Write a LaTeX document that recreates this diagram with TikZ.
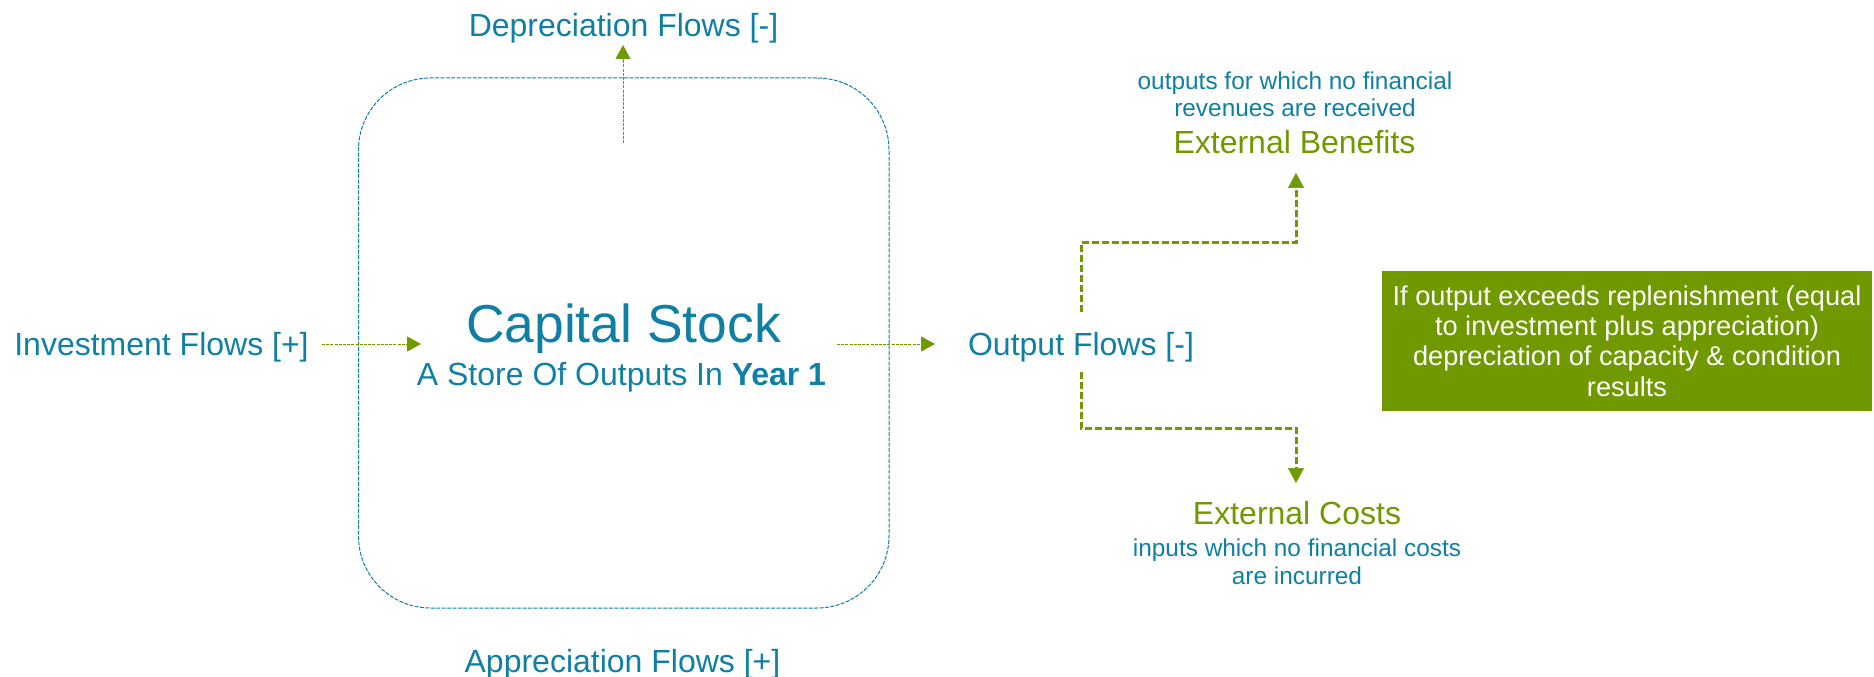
\documentclass[tikz,border=0pt]{standalone}
\usepackage{fontspec}
\setmainfont{Liberation Sans}
\usetikzlibrary{arrows.meta}
\definecolor{stockblue}{HTML}{0F7FA5}
\definecolor{flowgreen}{HTML}{709900}

\begin{document}
\begin{tikzpicture}[x=0.5pt,y=0.5pt,
    flow/.style={text=stockblue,font=\fontsize{16}{18}\selectfont,inner sep=0pt},
    ext/.style={text=flowgreen,font=\fontsize{16}{18}\selectfont,inner sep=0pt},
    remark/.style={text=stockblue,font=\fontsize{12.2}{14}\selectfont,align=center,inner sep=0pt},
    thinflow/.style={draw=flowgreen,line width=0.5pt,dash pattern=on 1.5pt off 0.6pt,
      -{Triangle[width=7.5pt,length=7pt]}},
    branch/.style={draw=flowgreen,line width=1.5pt,dash pattern=on 3.5pt off 1.5pt,
      -{Triangle[width=8pt,length=7.5pt,line width=0.3pt]}}]
    \useasboundingbox (0,0) rectangle (1874,676);

    \node[draw=stockblue,line width=0.5pt,dash pattern=on 2pt off 0.7pt,rounded corners=36pt,
      minimum width=265.25pt,minimum height=265pt] (capital) at (623.75,333) {};
    \node[flow,font=\fontsize{26.7}{30}\selectfont,anchor=base] (title) at (623.5,334) {Capital Stock};
    \node[flow,anchor=base] (store) at (621.5,291) {A Store Of Outputs In \textbf{Year 1}};

    \node[flow,anchor=base] (deprec) at (623.5,639) {Depreciation Flows [-]};
    \node[flow,anchor=base] (apprec) at (622.5,3.4) {Appreciation Flows [+]};
    \node[flow,anchor=base] (invest) at (161.5,321) {Investment Flows [+]};
    \node[flow,anchor=base] (output) at (1081,321) {Output Flows [-]};

    \node[remark,anchor=base] (bennote) at (1295,559) {outputs for which no financial\\revenues are received};
    \node[ext,anchor=base] (benefits) at (1294.5,522) {External Benefits};
    \node[ext,anchor=base] (costs) at (1297,152) {External Costs};
    \node[remark,anchor=base] (costnote) at (1297,92) {inputs which no financial costs\\are incurred};

    \node[fill=flowgreen,text=white,font=\fontsize{13.6}{15.2}\selectfont,align=center,
      minimum width=245pt,minimum height=70pt,inner sep=0pt] (note) at (1627,335)
      {If output exceeds replenishment (equal\\to investment plus appreciation)\\depreciation of capacity \& condition\\results};

    \coordinate (inA) at (322,332);
    \coordinate (inB) at (421,332);
    \coordinate (outA) at (837,332);
    \coordinate (outB) at (935,332);
    \coordinate (depA) at (623,533);
    \coordinate (depB) at (623,631);
    \coordinate (upA) at (1081,364);
    \coordinate (upB) at (1296,503);
    \coordinate (downA) at (1081,304);
    \coordinate (downB) at (1296,193);

    \draw[thinflow] (inA) -- (inB);
    \draw[thinflow] (outA) -- (outB);
    \draw[thinflow] (depA) -- (depB);
    \draw[branch] (upA) |- (1188,433) -| (upB);
    \draw[branch] (downA) |- (1188,248) -| (downB);
\end{tikzpicture}
\end{document}
